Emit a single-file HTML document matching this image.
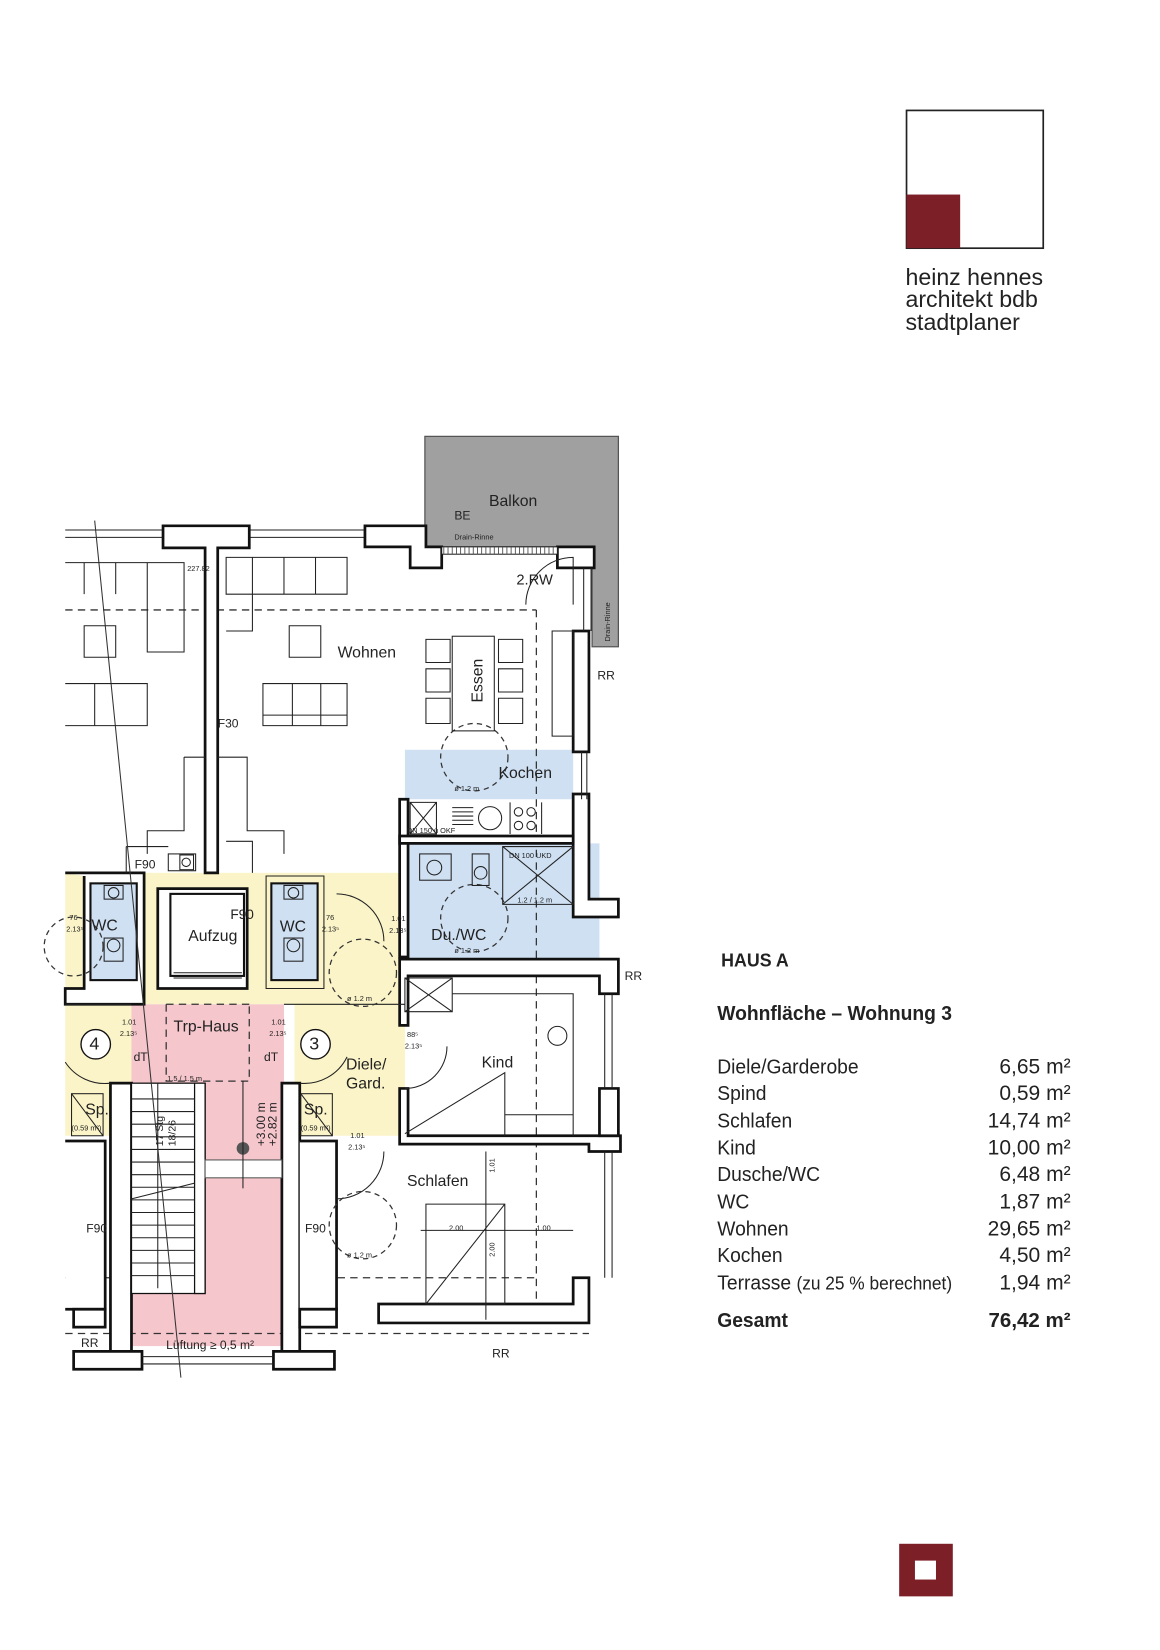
<!DOCTYPE html>
<html><head><meta charset="utf-8">
<style>
html,body{margin:0;padding:0;background:#fff;}
svg{display:block;}
text{font-family:"Liberation Sans Narrow","Liberation Sans",sans-serif;fill:#222;}
.w{fill:#fff;stroke:#111;stroke-width:2.6;}
.t{fill:none;stroke:#222;stroke-width:1;}
.d{fill:none;stroke:#333;stroke-width:1.2;stroke-dasharray:7 5;}
.c{fill:none;stroke:#333;stroke-width:1.2;stroke-dasharray:5 4;}
.s{font-size:7px;}
</style></head>
<body>
<svg width="1160" height="1650" viewBox="0 0 1103 1569" xmlns="http://www.w3.org/2000/svg">
<rect width="1103" height="1569" fill="#fff"/>
<!-- logo -->
<rect x="862" y="105" width="130" height="131" fill="#fff" stroke="#222" stroke-width="1.6"/>
<rect x="862" y="185" width="51" height="51" fill="#7d1f27"/>
<g style="font-family:'Liberation Sans',sans-serif;font-size:22px">
<text x="861" y="271">heinz hennes</text>
<text x="861" y="292">architekt bdb</text>
<text x="861" y="314">stadtplaner</text>
</g>
<!-- bottom square -->
<rect x="855" y="1468" width="51" height="50" fill="#7d1f27"/>
<rect x="870" y="1484" width="20" height="18" fill="#fff"/>

<!-- ===== PLAN ===== -->
<rect x="62" y="830" width="323" height="125" fill="#fbf4c8"/>
<rect x="62" y="955" width="66" height="125" fill="#fbf4c8"/>
<rect x="280" y="955" width="105" height="125" fill="#fbf4c8"/>
<rect x="125" y="955" width="145" height="325" fill="#f5c6cc"/>
<rect x="385" y="713" width="160" height="47" fill="#cfe0f3"/>
<rect x="385" y="802" width="185" height="110" fill="#cfe0f3"/>
<!-- balcony (L-shape) -->
<path d="M404 415 H588 V615 H563 V540 H530 V520 H420 V523 H404 Z" fill="#a0a0a0" stroke="#555" stroke-width="1.2"/>

<path class="d" d="M62 580 H510 M510 580 V1240 M62 1268 H560 M62 1215 H125 M285 1215 H510"/>
<path class="d" d="M158 955 V1028 H237 V955 M158 955 H237"/>
<path class="t" d="M62 504 H155 M62 511 H155 M237 504 H347 M237 511 H347"/>
<path class="w" d="M155 500 H237 V521 H207 V830 H195 V521 H155 Z"/>
<path class="w" d="M347 500 H405 V520 H420 V540 H390 V520 H347 Z"/>
<path class="w" d="M530 520 H565 V540 H530 Z"/>
<path class="w" d="M545 600 H560 V715 H545 Z"/>
<path class="w" d="M380 760 H388 V910 H380 Z"/>
<path class="w" d="M545 755 H560 V855 H588 V872 H545 Z"/>
<path class="w" d="M380 795 H545 V802 H380 Z"/>
<path class="w" d="M380 912 H588 V945 H570 V928 H388 V975 H380 Z"/>
<path class="w" d="M380 1035 H388 V1080 H590 V1095 H560 V1088 H380 Z"/>
<path class="w" d="M570 1035 H588 V1080 H570 Z"/>
<path class="w" d="M545 1215 H560 V1258 H360 V1240 H545 Z"/>
<path class="t" d="M555 540 V600 M562 540 V600 M553 715 V760 M558 715 V760 M575 945 V1035 M582 945 V1035 M575 1095 V1215 M582 1095 V1215"/>
<rect x="420" y="520" width="110" height="7" fill="#fff" stroke="#222" stroke-width="1"/>
<path d="M422 520 V527 M426 520 V527 M430 520 V527 M434 520 V527 M438 520 V527 M442 520 V527 M446 520 V527 M450 520 V527 M454 520 V527 M458 520 V527 M462 520 V527 M466 520 V527 M470 520 V527 M474 520 V527 M478 520 V527 M482 520 V527 M486 520 V527 M490 520 V527 M494 520 V527 M498 520 V527 M502 520 V527 M506 520 V527 M510 520 V527 M514 520 V527 M518 520 V527 M522 520 V527 M526 520 V527" stroke="#444" stroke-width="0.8"/>
<path class="w" d="M62 830 H137 V955 H62 V940 H80 V833" />
<rect x="86" y="840" width="44" height="92" fill="#cfe0f3" stroke="#111" stroke-width="2"/>
<path class="w" d="M150 845 H235 V940 H150 Z"/>
<rect x="162" y="850" width="70" height="78" fill="#fff" stroke="#111" stroke-width="2"/>
<path class="t" d="M165 925 H230 M165 930 H230"/>
<rect x="258" y="840" width="44" height="92" fill="#cfe0f3" stroke="#111" stroke-width="2"/>
<path class="t" d="M253 833 H308 V940 H253 Z" stroke-width="2.4"/>
<path class="t" d="M62 955 H125 M270 955 H385"/>
<rect x="99" y="842" width="18" height="13" class="t"/><circle cx="108" cy="849" r="5" class="t"/>
<rect x="99" y="892" width="18" height="22" class="t"/><circle cx="108" cy="899" r="6" class="t"/>
<rect x="270" y="842" width="18" height="13" class="t"/><circle cx="279" cy="849" r="5" class="t"/>
<rect x="270" y="892" width="18" height="22" class="t"/><circle cx="279" cy="899" r="6" class="t"/>
<rect x="160" y="812" width="26" height="16" class="t"/><rect x="171" y="813" width="13" height="14" class="t"/><circle cx="177" cy="820" r="4" class="t"/>
<path class="t" d="M120 805 H160 M120 805 V830 M215 800 H240 V830"/>
<path class="w" d="M105 1030 H125 V1300 H105 Z"/>
<path class="w" d="M268 1030 H285 V1300 H268 Z"/>
<path class="w" d="M70 1285 H135 V1302 H70 Z"/>
<path class="w" d="M260 1285 H318 V1302 H260 Z"/>
<path class="t" d="M135 1290 H260 M135 1297 H260"/>
<path class="w" d="M62 1085 H100 V1245 H62"/>
<path class="w" d="M285 1085 H320 V1245 H285"/>
<path class="w" d="M70 1245 H100 V1262 H70 Z"/>
<path class="w" d="M285 1245 H320 V1262 H285 Z"/>
<rect x="125" y="1030" width="70" height="200" fill="#fff" stroke="#111" stroke-width="1.2"/>
<rect x="185" y="1030" width="10" height="200" fill="#fff" stroke="#111" stroke-width="1.2"/>
<path class="t" d="M125 1045 H185 M125 1057 H185 M125 1069 H185 M125 1081 H185 M125 1093 H185 M125 1105 H185 M125 1117 H185 M125 1129 H185 M125 1141 H185 M125 1153 H185 M125 1165 H185 M125 1177 H185 M125 1189 H185 M125 1201 H185 M125 1213 H185 M150 1030 V1225 M125 1140 L185 1125"/>
<rect x="195" y="1103" width="73" height="17" fill="#fff" stroke="#555" stroke-width="1"/>
<circle cx="231" cy="1092" r="6" fill="#555"/>
<path class="t" d="M231 1028 V1130"/>
<rect x="68" y="1040" width="30" height="40" class="t"/><path class="t" d="M68 1040 L98 1080"/>
<rect x="286" y="1040" width="30" height="40" class="t"/><path class="t" d="M286 1040 L316 1080"/>
<path d="M90 495 L172 1310" stroke="#333" stroke-width="1"/>
<circle cx="91" cy="993" r="14" fill="#fff" stroke="#111" stroke-width="1.3"/>
<circle cx="300" cy="993" r="14" fill="#fff" stroke="#111" stroke-width="1.3"/>
<path class="t" d="M62 1010 A45 45 0 0 0 105 1030 M285 1030 A45 45 0 0 0 330 1005 M320 850 A45 45 0 0 1 365 895 M320 1140 A45 45 0 0 0 365 1095 M385 1035 A40 40 0 0 0 425 995 M500 575 A45 45 0 0 1 545 530 V575"/>
<circle class="c" cx="451" cy="720" r="32"/>
<circle class="c" cx="451" cy="873" r="32"/>
<circle class="c" cx="345" cy="925" r="32"/>
<circle class="c" cx="345" cy="1165" r="32"/>
<circle class="c" cx="70" cy="900" r="28"/>
<path class="t" d="M215 530 H330 V565 H215 Z M240 530 V565 M270 530 V565 M300 530 V565 M215 565 H240 V600 H215 M275 595 H305 V625 H275 Z M250 650 H330 V690 H250 Z M278 650 V690 M305 650 V690 M250 680 H330"/>
<path class="t" d="M62 535 H175 V620 H140 V535 M80 535 V565 M110 535 V565 M80 595 H110 V625 H80 Z M62 650 H140 V690 H62 M90 650 V690"/>
<rect x="430" y="605" width="40" height="90" class="t"/>
<path class="t" d="M405 608 H428 V630 H405 Z M405 636 H428 V658 H405 Z M405 664 H428 V688 H405 Z M474 608 H497 V630 H474 Z M474 636 H497 V658 H474 Z M474 664 H497 V688 H474 Z M525 600 H545 V700 H525 Z"/>
<path class="t" d="M175 720 H195 M207 720 H235 V790 H270 V812 M175 720 V790 H140 V812"/>
<path class="t" d="M390 763 H415 V793 H390 Z M390 763 L415 793 M415 763 L390 793 M430 768 H450 M430 772 H450 M430 776 H450 M430 780 H450 M430 784 H450 M485 763 V793 M515 763 V793"/>
<circle class="t" cx="466" cy="778" r="11"/>
<circle class="t" cx="493" cy="772" r="4"/><circle class="t" cx="505" cy="772" r="4"/><circle class="t" cx="493" cy="785" r="4"/><circle class="t" cx="505" cy="785" r="4"/>
<path class="t" d="M478 805 H545 V860 H478 Z M478 805 L545 860 M545 805 L478 860"/>
<rect x="399" y="812" width="30" height="25" class="t"/><circle class="t" cx="413" cy="825" r="7"/>
<rect x="449" y="812" width="16" height="30" class="t"/><circle class="t" cx="457" cy="830" r="6"/>
<path class="t" d="M385 930 H430 V962 H385 Z M385 930 L430 962 M430 930 L385 962 M430 945 H545 V1080 M385 1078 L480 1020 V1080 M480 1060 H545"/>
<circle class="t" cx="530" cy="985" r="9"/>
<path class="t" d="M405 1145 H480 V1240 H405 Z M405 1240 L480 1145 M462 1095 V1255 M400 1170 H545"/>
<g font-size="15">
<text x="465" y="481">Balkon</text>
<text x="321" y="625">Wohnen</text>
<text x="474" y="740">Kochen</text>
<text x="410" y="894">Du./WC</text>
<text x="458" y="1015">Kind</text>
<text x="387" y="1128">Schlafen</text>
<text x="165" y="981">Trp-Haus</text>
<text x="179" y="895">Aufzug</text>
<text x="329" y="1017">Diele/</text>
<text x="329" y="1035">Gard.</text>
<text x="87" y="885">WC</text>
<text x="266" y="886">WC</text>
<text x="81" y="1060">Sp.</text>
<text x="289" y="1060">Sp.</text>
<text x="85" y="998" font-size="17">4</text>
<text x="294" y="998" font-size="17">3</text>
<text x="219" y="874" font-size="13">F90</text>
</g>
<g font-size="11.5">
<text x="432" y="494">BE</text>
<text x="491" y="556" font-size="14">2.RW</text>
<text x="568" y="646">RR</text>
<text x="207" y="692">F30</text>
<text x="128" y="826">F90</text>
<text x="594" y="932">RR</text>
<text x="127" y="1009">dT</text>
<text x="251" y="1009">dT</text>
<text x="82" y="1172">F90</text>
<text x="290" y="1172">F90</text>
<text x="77" y="1281">RR</text>
<text x="158" y="1283">Lüftung ≥ 0,5 m²</text>
<text x="468" y="1291">RR</text>
<text x="459" y="668" font-size="15" transform="rotate(-90 459 668)">Essen</text>
<text x="252" y="1090" transform="rotate(-90 252 1090)">+3.00 m</text>
<text x="263" y="1090" transform="rotate(-90 263 1090)">+2.82 m</text>
<text x="155" y="1090" transform="rotate(-90 155 1090)" font-size="10">17 Stg</text>
<text x="167" y="1090" transform="rotate(-90 167 1090)" font-size="10">18/26</text>
</g>
<g class="s">
<text x="432" y="513">Drain-Rinne</text>
<text x="580" y="610" transform="rotate(-90 580 610)">Drain-Rinne</text>
<text x="432" y="752">ø 1.2 m</text>
<text x="387" y="792">DN 150 ü OKF</text>
<text x="484" y="816">DN 100 UKD</text>
<text x="492" y="858">1.2 / 1.2 m</text>
<text x="432" y="906">ø 1.2 m</text>
<text x="330" y="952">ø 1.2 m</text>
<text x="330" y="1196">ø 1.2 m</text>
<text x="159" y="1028">1.5 / 1.5 m</text>
<text x="178" y="543">227.82</text>
<text x="427" y="1170">2.00</text>
<text x="510" y="1170">1.00</text>
<text x="470" y="1115" transform="rotate(-90 470 1115)">1.01</text>
<text x="470" y="1195" transform="rotate(-90 470 1195)">2.00</text>
<text x="66" y="875">76</text><text x="63" y="886">2.13⁵</text>
<text x="310" y="875">76</text><text x="306" y="886">2.13⁵</text>
<text x="372" y="876">1.01</text><text x="370" y="887">2.13⁵</text>
<text x="116" y="974">1.01</text><text x="114" y="985">2.13⁵</text>
<text x="258" y="974">1.01</text><text x="256" y="985">2.13⁵</text>
<text x="387" y="986">88⁵</text><text x="385" y="997">2.13⁵</text>
<text x="333" y="1082">1.01</text><text x="331" y="1093">2.13⁵</text>
<text x="68" y="1075">(0.59 m²)</text>
<text x="286" y="1075">(0.59 m²)</text>
</g>

<!-- ===== TABLE ===== -->
<g transform="translate(682 0) scale(0.94 1) translate(-682 0)" font-size="19.5">
<text x="686" y="919" font-weight="bold" font-size="18">HAUS A</text>
<text x="682" y="970" font-weight="bold">Wohnfläche – Wohnung 3</text>
<text x="682" y="1021">Diele/Garderobe</text>
<text x="682" y="1046">Spind</text>
<text x="682" y="1072">Schlafen</text>
<text x="682" y="1098">Kind</text>
<text x="682" y="1123">Dusche/WC</text>
<text x="682" y="1149">WC</text>
<text x="682" y="1175">Wohnen</text>
<text x="682" y="1200">Kochen</text>
<text x="682" y="1226">Terrasse <tspan font-size="17.5">(zu 25 % berechnet)</tspan></text>
<text x="682" y="1262" font-weight="bold">Gesamt</text>
</g>
<g text-anchor="end" font-size="20">
<text x="1018" y="1021">6,65 m²</text>
<text x="1018" y="1046">0,59 m²</text>
<text x="1018" y="1072">14,74 m²</text>
<text x="1018" y="1098">10,00 m²</text>
<text x="1018" y="1123">6,48 m²</text>
<text x="1018" y="1149">1,87 m²</text>
<text x="1018" y="1175">29,65 m²</text>
<text x="1018" y="1200">4,50 m²</text>
<text x="1018" y="1226">1,94 m²</text>
<text x="1018" y="1262" font-weight="bold" font-size="19.5">76,42 m²</text>
</g>
</svg>
</body></html>
